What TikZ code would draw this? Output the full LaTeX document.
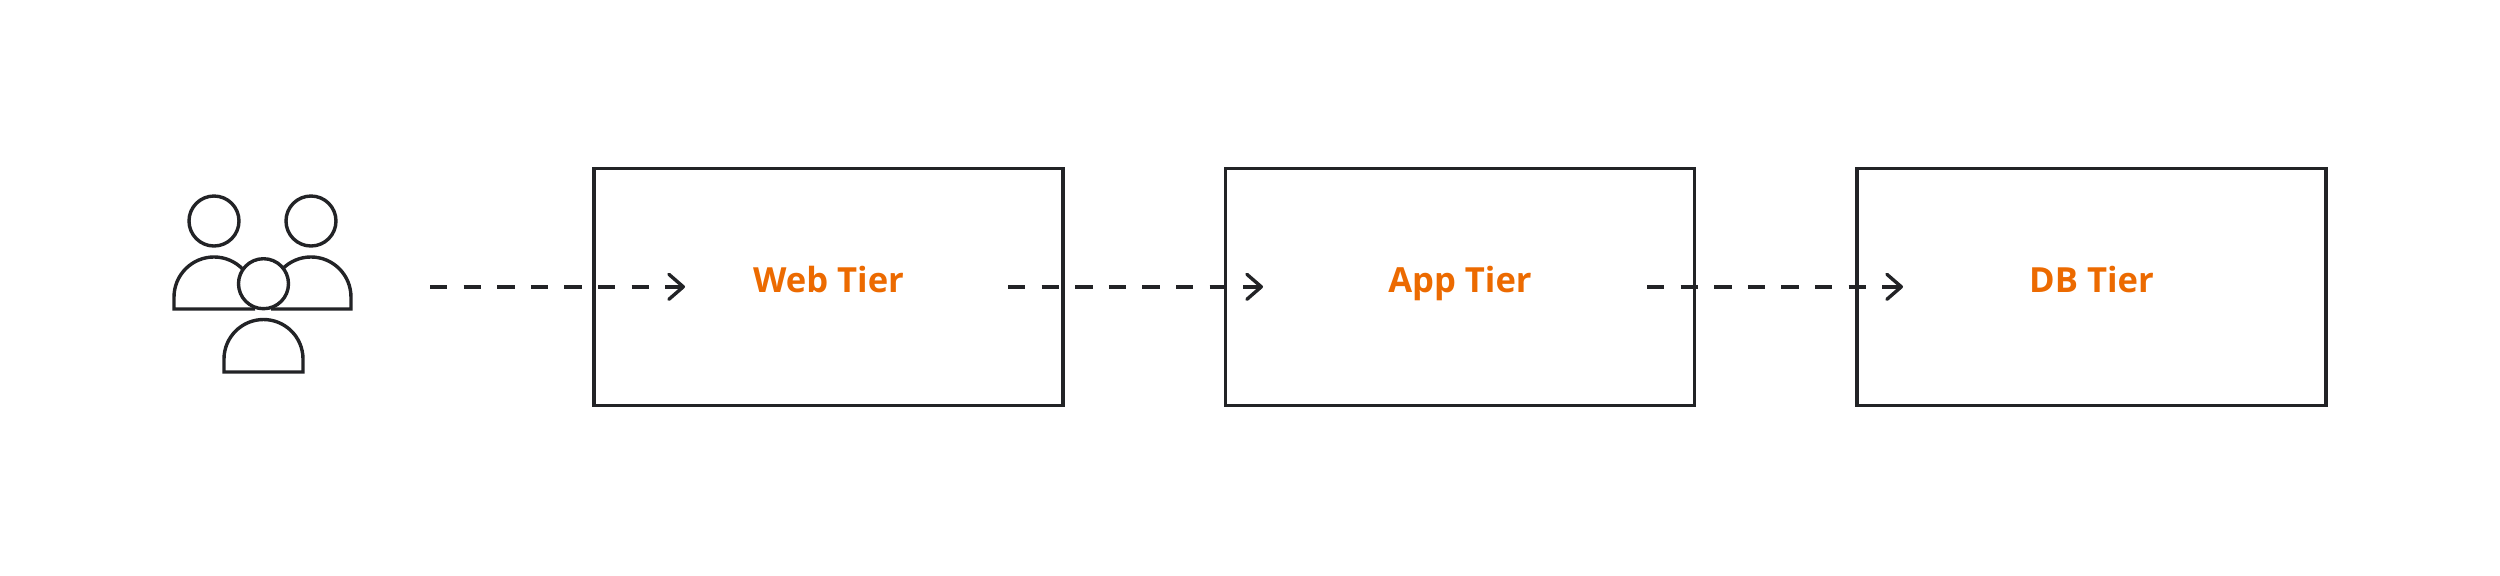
\documentclass[tikz,border=0pt]{standalone}
\usepackage{fontspec}
\setmainfont{Open Sans}
\usetikzlibrary{arrows.meta}
\definecolor{ink}{HTML}{222326}
\definecolor{tierorange}{HTML}{EC6A00}
\tikzset{
  tierbox/.style={draw=ink,line width=1.6pt,minimum width=234.5pt,minimum height=118.5pt,inner sep=0pt,
    text=tierorange,font=\bfseries\fontsize{17.3}{20}\selectfont,text height=5.6pt,text depth=0pt},
  flow/.style={draw=ink,line width=1.7pt,dash pattern=on 8.65pt off 8.15pt,
    -{Straight Barb[length=7.2pt,width=12.5pt,line width=1.7pt,round]}},
  icon/.style={draw=ink,line width=1.7pt}
}
\begin{document}
\begin{tikzpicture}[x=0.5pt,y=-0.5pt]
\useasboundingbox (0,0) rectangle (2500,575);
\fill[white] (0,0) rectangle (2500,575);
% users icon
\draw[icon] (214,221) circle (25);
\draw[icon] (311,221) circle (25);
\draw[icon] (263.5,283.7) circle (25);
\draw[icon] (242.3,268.7) arc[start angle=45,end angle=180,x radius=40,y radius=-40] -- (174,309) -- (255,309);
\draw[icon] (282.7,268.7) arc[start angle=135,end angle=0,x radius=40,y radius=-40] -- (351,309) -- (271,309);
\draw[icon] (224,372) -- (224,359) arc[start angle=180,end angle=0,x radius=39.5,y radius=-39.5] -- (303,372) -- cycle;
% tiers
\node[tierbox] (web) at (828.5,286.8) {Web Tier};
\node[tierbox] (app) at (1460,286.8) {App Tier};
\node[tierbox] (db)  at (2091.5,286.8) {DB Tier};
% flow ends
\coordinate (a1) at (430,286.8);
\coordinate (b1) at (685,286.8);
\coordinate (a2) at (1008,286.8);
\coordinate (b2) at (1263,286.8);
\coordinate (a3) at (1647,286.8);
\coordinate (b3) at (1903,286.8);
\draw[flow] (a1) -- (b1);
\draw[flow] (a2) -- (b2);
\draw[flow] (a3) -- (b3);
\end{tikzpicture}
\end{document}
